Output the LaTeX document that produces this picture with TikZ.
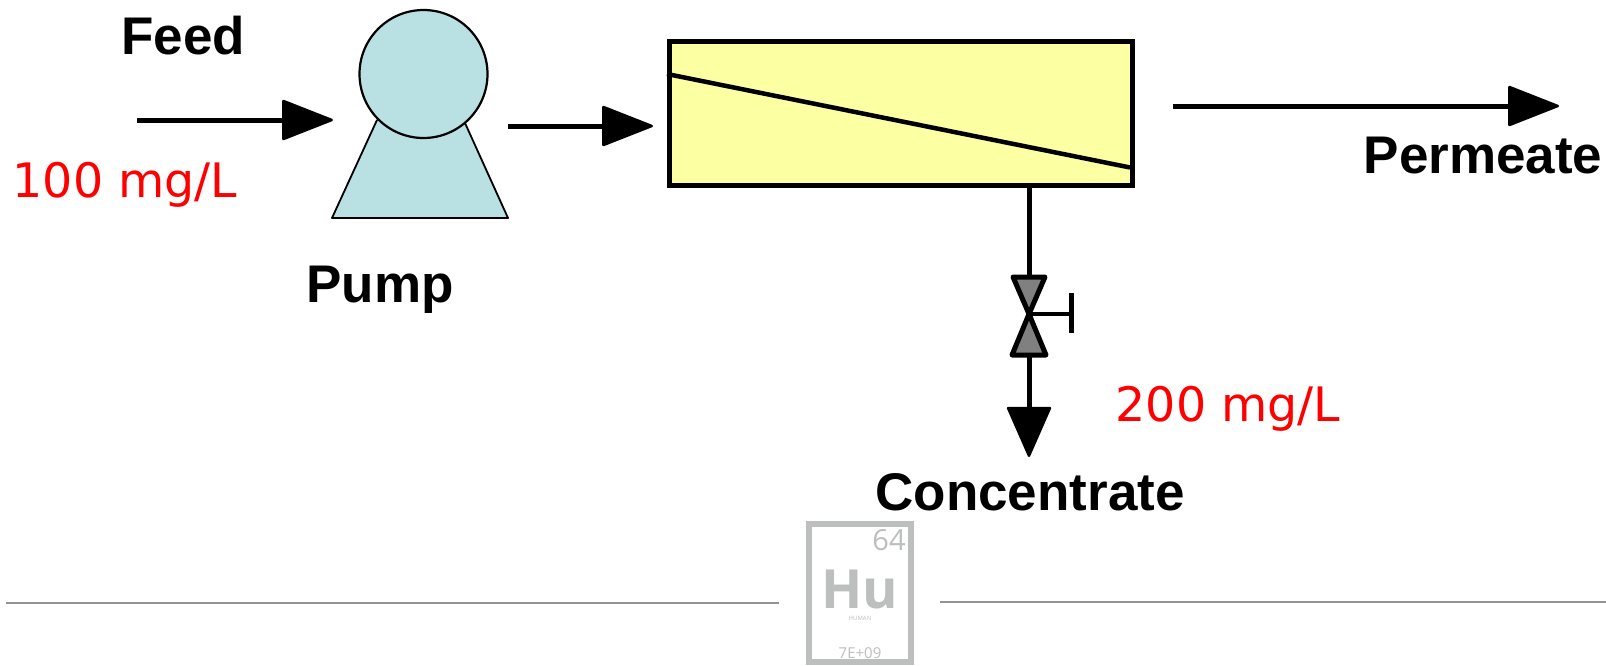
\documentclass[tikz,border=0pt]{standalone}
\usepackage{fontspec}
\setmainfont{Liberation Sans}
\newfontfamily\redfont{DejaVu Sans}
\newfontfamily\logofont{Open Sans}
\usetikzlibrary{arrows.meta}
\definecolor{pumpfill}{HTML}{B9E0E3}
\definecolor{boxfill}{HTML}{FDFFA3}
\definecolor{logogray}{HTML}{BDBFBE}
\definecolor{valvegray}{HTML}{808080}
\tikzset{
 flow/.style={line width=5pt,-{Triangle[length=53pt,width=41pt,round,line width=2.5pt]},shorten >=1pt},
 lbl/.style={font=\fontsize{53}{53}\selectfont\bfseries,inner sep=0pt,anchor=center},
 conc/.style={font=\redfont\fontsize{47.5}{47.5}\selectfont,text=red,inner sep=0pt,anchor=center},
 rule/.style={line width=1.8pt,draw=gray!85},
 logo/.style={text=logogray,inner sep=0pt,anchor=center}
}
\begin{document}
\begin{tikzpicture}[x=1pt,y=-1pt]
\useasboundingbox (0,0) rectangle (1606,665);
% pump
\draw[fill=pumpfill,line width=1.8pt,line join=round] (377,120) -- (332,218) -- (508,218) -- (465,123);
\node[circle,draw,fill=pumpfill,line width=2.2pt,minimum size=128pt,inner sep=0pt] (pump) at (423.5,74) {};
% membrane
\node[draw,fill=boxfill,line width=5pt,minimum width=463pt,minimum height=144pt,inner sep=0pt] (mod) at (901,113.5) {};
\draw[line width=4.5pt] (mod.west|-0,74) coordinate (ma) -- (1130,167.5) coordinate (mb);
% arrows
\coordinate (f0) at (137,120); \coordinate (f1) at (334,120);
\coordinate (p0) at (508,126); \coordinate (p1) at (654,126);
\coordinate (q0) at (1173,106); \coordinate (q1) at (1560,106);
\draw[flow] (f0) -- (f1);
\draw[flow] (p0) -- (p1);
\draw[flow] (q0) -- (q1);
% valve
\coordinate (vc) at (1029,314);
\coordinate (vt) at (1029,277);
\coordinate (vb) at (1029,355);
\coordinate (ce) at (1029,457);
\coordinate (hh) at (1071,314);
\draw[line width=5pt] (1029,186) -- (vt);
\draw[fill=valvegray,line width=5pt,line join=round] (1013,277) -- (1045,277) -- (vc) -- (1046,355) -- (1012,355) -- (vc) -- cycle;
\draw[line width=4pt] (vc) -- (hh);
\draw[line width=5pt] (1071,293) -- (1071,333);
\draw[line width=5pt,-{Triangle[length=52pt,width=45pt,round,line width=2.5pt]}] (vb) -- (ce);
% labels
\node[lbl] (feed) at (183,36) {Feed};
\node[lbl] (pumpl) at (380,290) {Pump};
\node[lbl] (perm) at (1483,156) {Permeate};
\node[lbl] (concl) at (1030,492) {Concentrate};
\node[conc] (c1) at (125,185) {100 mg/L};
\node[conc] (c2) at (1228,409) {200 mg/L};
% footer
\coordinate (r0) at (6,603); \coordinate (r1) at (779,603);
\coordinate (r2) at (940,602); \coordinate (r3) at (1606,602);
\draw[rule] (r0) -- (r1);
\draw[rule] (r2) -- (r3);
\node[draw=logogray,line width=6pt,minimum width=102pt,minimum height=138pt,inner sep=0pt,fill=white] (hu) at (860,593) {};
\node[logo,font=\logofont\fontsize{29}{29}\selectfont] (n64) at (889,540) {64};
\node[logo,font=\logofont\fontsize{54}{54}\selectfont\bfseries] (sym) at (860,589) {Hu};
\node[logo,font=\logofont\fontsize{6}{6}\selectfont] (nm) at (860,618) {HUMAN};
\node[logo,font=\logofont\fontsize{15}{15}\selectfont] (pop) at (860,653) {7E+09};
\end{tikzpicture}
\end{document}
